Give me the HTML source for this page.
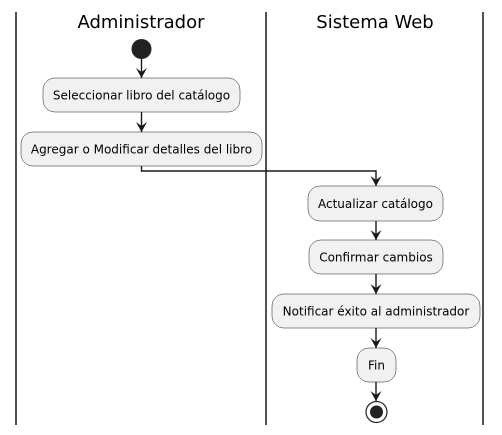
<!DOCTYPE html>
<html><head><style>body{margin:0;background:#fff}svg{display:block}</style></head><body>
<svg width="502" height="435" viewBox="0 0 502 435" xmlns="http://www.w3.org/2000/svg" font-family="'DejaVu Sans','Liberation Sans',sans-serif">
<defs><marker id="a" markerWidth="12" markerHeight="12" refX="10" refY="5.5" orient="auto" markerUnits="userSpaceOnUse"><path d="M0,0 L10,5.5 L0,11 L4,5.5 Z" fill="#181818"/></marker></defs>
<g stroke="#181818" stroke-width="1.5">
<line x1="16" y1="12" x2="16" y2="425"/><line x1="266" y1="12" x2="266" y2="425"/><line x1="483" y1="12" x2="483" y2="425"/>
</g>
<text x="141" y="28" font-size="18" text-anchor="middle" fill="#000">Administrador</text>
<text x="375" y="28" font-size="18" text-anchor="middle" fill="#000">Sistema Web</text>
<circle cx="141.5" cy="49" r="10" fill="#222"/>
<g stroke="#181818" stroke-width="1.4" fill="none">
<line x1="141.5" y1="59" x2="141.5" y2="78" marker-end="url(#a)"/>
<line x1="141.5" y1="112" x2="141.5" y2="132" marker-end="url(#a)"/>
<polyline points="141.5,166 141.5,171 376,171 376,186" marker-end="url(#a)"/>
<line x1="376" y1="221" x2="376" y2="240" marker-end="url(#a)"/>
<line x1="376" y1="274" x2="376" y2="294" marker-end="url(#a)"/>
<line x1="376" y1="328" x2="376" y2="348" marker-end="url(#a)"/>
<line x1="376" y1="382" x2="376" y2="401" marker-end="url(#a)"/>
</g>
<g fill="#f1f1f1" stroke="#181818" stroke-width="0.5">
<rect x="43" y="78" width="197" height="34" rx="12"/>
<rect x="21" y="132" width="241" height="34" rx="12"/>
<rect x="308" y="186" width="135" height="35" rx="12"/>
<rect x="309" y="240" width="134" height="34" rx="12"/>
<rect x="272" y="294" width="208" height="34" rx="12"/>
<rect x="357" y="348" width="39" height="34" rx="12"/>
</g>
<g font-size="12" fill="#000" text-anchor="middle">
<text x="141.5" y="99.5">Seleccionar libro del catálogo</text>
<text x="141.5" y="153.5">Agregar o Modificar detalles del libro</text>
<text x="375.5" y="208">Actualizar catálogo</text>
<text x="376" y="261.5">Confirmar cambios</text>
<text x="376" y="315.5">Notificar éxito al administrador</text>
<text x="376.5" y="369.5">Fin</text>
</g>
<circle cx="376.5" cy="412" r="10.5" fill="none" stroke="#222" stroke-width="1.2"/>
<circle cx="376.5" cy="412" r="6.5" fill="#222"/>
</svg>
</body></html>
